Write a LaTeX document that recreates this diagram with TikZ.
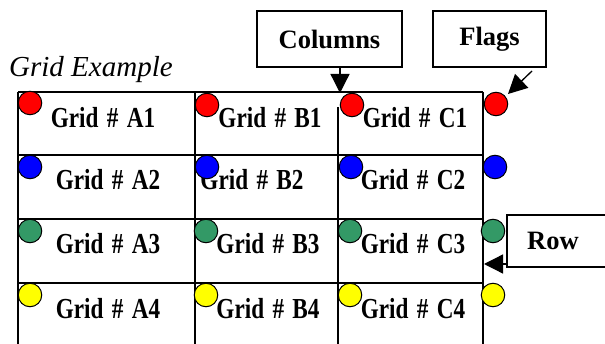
\documentclass[tikz,border=0pt]{standalone}
\usepackage{fontspec}
\setmainfont{Liberation Serif}
\usetikzlibrary{arrows.meta}
\definecolor{flagred}{RGB}{255,0,0}
\definecolor{flagblue}{RGB}{0,0,255}
\definecolor{flaggreen}{RGB}{51,153,102}
\definecolor{flagyellow}{RGB}{255,255,0}
\newcommand{\celllabel}[1]{\scalebox{0.8}[1]{\fontsize{29}{29}\selectfont\bfseries Grid\hspace{0.36em}\#\hspace{0.36em}#1}}
\begin{document}
\begin{tikzpicture}[x=1pt,y=-1pt,
  gridline/.style={line width=1.3pt, black},
  flag/.style={circle, draw=black, line width=1pt, minimum size=23.5pt, inner sep=0pt},
  celltext/.style={anchor=base, inner sep=0pt},
  callout/.style={draw=black, line width=1.3pt, font=\fontsize{26.5}{26.5}\selectfont\bfseries, inner sep=0pt},
  bigarrow/.style={line width=1.3pt, -{Triangle[length=19pt,width=19pt]}}
]
\useasboundingbox (0,0) rectangle (605,344);
% grid lines
\foreach \y in {92,155,219,283} \draw[gridline] (18,\y) -- (483,\y);
\draw[gridline] (18,92) -- (18,350);
\draw[gridline] (195,92) -- (195,350);
\draw[gridline] (338,107) -- (338,350);
\draw[gridline] (483,92) -- (483,350);
% title
\node[anchor=base west, inner sep=0pt, font=\fontsize{29}{29}\selectfont\itshape] (title) at (9,77) {Grid Example};
% cell labels
\node[celltext] (A1) at (103,128) {\celllabel{A1}};
\node[celltext] (B1) at (270,128) {\celllabel{B1}};
\node[celltext] (C1) at (415,128) {\celllabel{C1}};
\node[celltext] (A2) at (108,190) {\celllabel{A2}};
\node[celltext] (B2) at (252,190) {\celllabel{B2}};
\node[celltext] (C2) at (413,190) {\celllabel{C2}};
\node[celltext] (A3) at (108,254) {\celllabel{A3}};
\node[celltext] (B3) at (268,254) {\celllabel{B3}};
\node[celltext] (C3) at (413,254) {\celllabel{C3}};
\node[celltext] (A4) at (108,319) {\celllabel{A4}};
\node[celltext] (B4) at (268,319) {\celllabel{B4}};
\node[celltext] (C4) at (413,319) {\celllabel{C4}};
% flags
\node[flag, fill=flagred] (r1) at (30,103) {};
\node[flag, fill=flagred] (r2) at (207,105) {};
\node[flag, fill=flagred] (r3) at (352,105) {};
\node[flag, fill=flagred] (r4) at (496,104) {};
\node[flag, fill=flagblue] (b1) at (30,167) {};
\node[flag, fill=flagblue] (b2) at (207,167) {};
\node[flag, fill=flagblue] (b3) at (351,167) {};
\node[flag, fill=flagblue] (b4) at (495,167) {};
\node[flag, fill=flaggreen] (g1) at (30,231) {};
\node[flag, fill=flaggreen] (g2) at (206,231) {};
\node[flag, fill=flaggreen] (g3) at (350,231) {};
\node[flag, fill=flaggreen] (g4) at (493,231) {};
\node[flag, fill=flagyellow] (y1) at (30,295) {};
\node[flag, fill=flagyellow] (y2) at (206,295) {};
\node[flag, fill=flagyellow] (y3) at (350,295) {};
\node[flag, fill=flagyellow] (y4) at (493,295) {};
% callouts
\node[callout, minimum width=145pt, minimum height=56pt] (columns) at (329.5,39) {Columns};
\node[callout, minimum width=113pt, minimum height=56pt] (flags) at (489.5,39) {Flags};
\draw[line width=1.3pt] (507,215) rectangle (625,267);
\node[anchor=base, inner sep=0pt, font=\fontsize{26.5}{26.5}\selectfont\bfseries] (row) at (553,250) {Row};
% arrows
\coordinate (coltip) at (340,93);
\coordinate (flagtail) at (532,71);
\coordinate (flagtip) at (508,94);
\coordinate (rowtail) at (507,264);
\coordinate (rowtip) at (484,264);
\draw[bigarrow] (columns.south -| coltip) -- (coltip);
\draw[bigarrow] (flagtail) -- (flagtip);
\draw[bigarrow] (rowtail) -- (rowtip);
\end{tikzpicture}
\end{document}
